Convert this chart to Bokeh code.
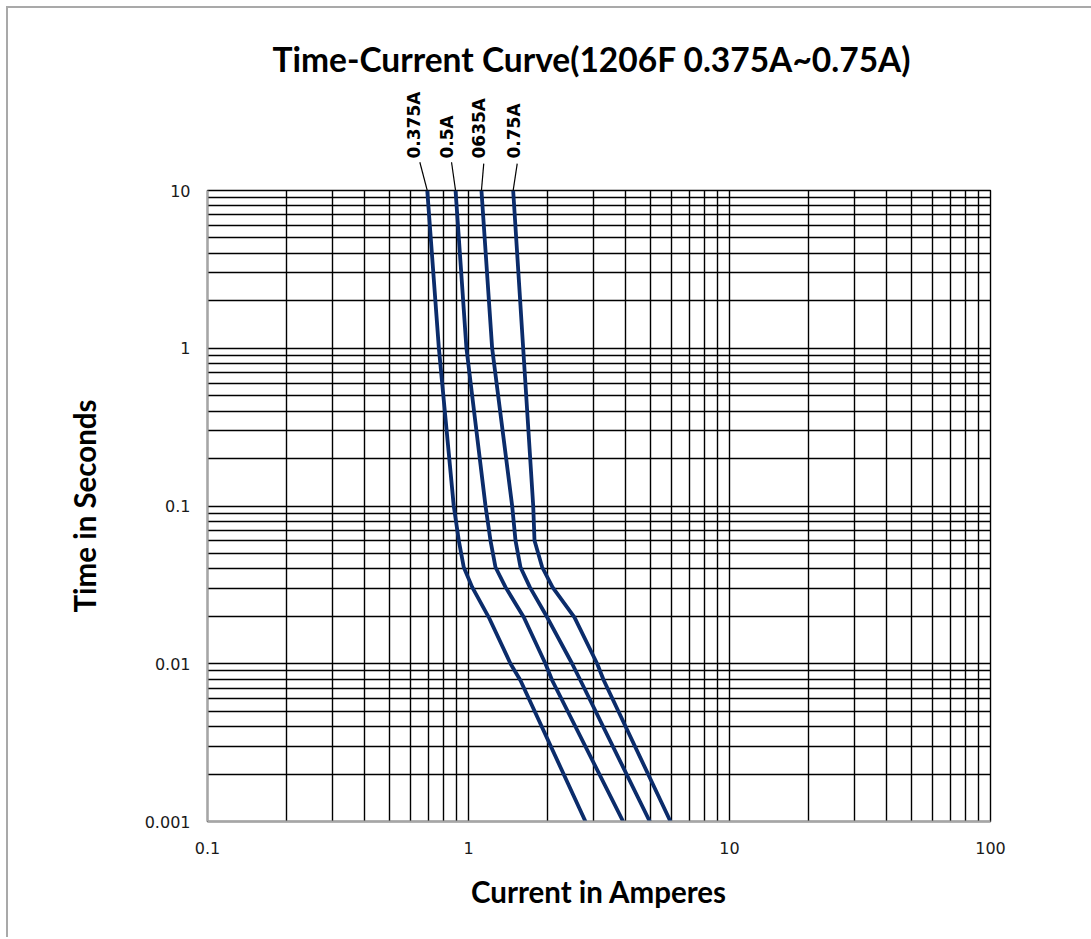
import math
from bokeh.plotting import figure
from bokeh.layouts import column
from bokeh.models import (FixedTicker, Title, Range1d, CustomJSTickFormatter)
from bokeh.core.properties import value
from bokeh.embed import file_html
from bokeh.resources import INLINE

# ---------------- data ----------------
rating_names = ["0.375A", "0.5A", "0635A", "0.75A"]

times = [10, 1, 0.1, 0.0604, 0.0409, 0.0306, 0.0197, 0.01, 0.00783, 0.001]
current_0375 = [0.695, 0.770, 0.878, 0.918, 0.959, 1.033, 1.196, 1.449, 1.582, 2.807]
current_05 = [0.892, 0.982, 1.162, 1.214, 1.269, 1.386, 1.629, 1.972, 2.093, 3.914]
current_0635 = [1.121, 1.232, 1.470, 1.514, 1.582, 1.718, 2.002, 2.496, 2.686, 4.951]
current_075 = [1.483, 1.620, 1.770, 1.790, 1.916, 2.098, 2.547, 3.112, 3.300, 5.943]

# curve labels (current, time) above the grid, and leader start points
label_current = [0.617, 0.829, 1.095, 1.491]
label_time = [15.95, 15.95, 15.95, 15.95]
leader_current = [0.651, 0.861, 1.144, 1.537]
leader_time = [15.1, 15.1, 14.8, 14.8]

x_ticks = [0.1, 1, 10, 100]
y_ticks = [0.001, 0.01, 0.1, 1, 10]

# ---------------- layout constants ----------------
W = 1083
LEFT, RIGHT = 199, 101
TOP_H = 182          # header figure (title + curve labels)
TOP_BORDER = 77
OVERLAP = 12
MAIN_H = 759
FRAME_H = 631
PX_PER_DECADE = FRAME_H / 4.0

x_range = Range1d(0.1, 100)
fmt = CustomJSTickFormatter(code="return parseFloat(tick.toPrecision(6)).toString();")

# ---------------- main figure ----------------
p = figure(width=W, height=MAIN_H, x_axis_type="log", y_axis_type="log",
           x_range=x_range, y_range=Range1d(0.001, 10),
           output_backend="svg", toolbar_location=None,
           min_border_left=LEFT, min_border_right=RIGHT,
           min_border_top=OVERLAP, min_border_bottom=MAIN_H - OVERLAP - FRAME_H,
           margin=(-OVERLAP, 0, 0, 0))
p.background_fill_color = "white"
p.border_fill_alpha = 0
p.outline_line_color = "black"
p.outline_line_width = 1.4

def minor_list(lo_exp, hi_exp):
    out = []
    for e in range(lo_exp, hi_exp):
        for k in range(2, 10):
            out.append(k * 10.0 ** e)
    return out

xt = FixedTicker(ticks=x_ticks, minor_ticks=minor_list(-1, 2))
yt = FixedTicker(ticks=y_ticks, minor_ticks=minor_list(-3, 1))
p.xaxis.ticker = xt
p.yaxis.ticker = yt
p.xgrid.ticker = xt
p.ygrid.ticker = yt
p.xaxis.formatter = fmt
p.yaxis.formatter = fmt

for g in (p.xgrid, p.ygrid):
    g.grid_line_color = "black"
    g.grid_line_width = 1.4
    g.minor_grid_line_color = "black"
    g.minor_grid_line_width = 1.4

for ax in (p.xaxis[0], p.yaxis[0]):
    ax.axis_line_color = "#a6a6a6"
    ax.axis_line_width = 2
    ax.major_tick_line_color = None
    ax.minor_tick_line_color = None
    ax.major_tick_out = 0
    ax.major_tick_in = 0
    ax.minor_tick_out = 0
    ax.minor_tick_in = 0
    ax.major_label_text_font = "DejaVu Sans"
    ax.major_label_text_font_size = "16px"
    ax.major_label_text_color = "#1a1a1a"
    ax.axis_label_text_font = "Lato"
    ax.axis_label_text_font_style = "bold"
    ax.axis_label_text_font_size = "29.5px"
    ax.axis_label_text_color = "black"

p.xaxis.axis_label = "Current in Amperes"
p.yaxis.axis_label = "Time in Seconds"
p.xaxis.major_label_standoff = 20
p.yaxis.major_label_standoff = 17
p.xaxis.axis_label_standoff = 17
p.yaxis.axis_label_standoff = 40

curve_color = "#0b2c6b"
all_curves = (current_0375, current_05, current_0635, current_075)
for cur in all_curves:
    p.line(cur, times, line_color=curve_color, line_width=3.8, line_join="round")

# ---------------- header figure (title + curve labels) ----------------
top_frame_h = TOP_H - TOP_BORDER
top_y_end = 10 ** (1 + top_frame_h / PX_PER_DECADE)
ph = figure(width=W, height=TOP_H, x_axis_type="log", y_axis_type="log",
            x_range=x_range, y_range=Range1d(10, top_y_end),
            x_axis_location=None, y_axis_location=None,
            output_backend="svg", toolbar_location=None,
            min_border_left=LEFT, min_border_right=RIGHT,
            min_border_top=TOP_BORDER, min_border_bottom=0)
ph.grid.visible = False
ph.outline_line_color = None
ph.background_fill_color = "white"
ph.border_fill_color = "white"

title = Title(text="Time-Current Curve(1206F  0.375A~0.75A)", align="left",
              text_font="Lato", text_font_style="bold", text_font_size="33.5px",
              text_color="black", standoff=13, offset=65)
ph.add_layout(title, "above")

ph.text(x=label_current, y=label_time, text=rating_names, angle=math.pi / 2,
        text_align="left", text_baseline="middle",
        text_font=value("DejaVu Sans"), text_font_style="bold",
        text_font_size="17px", text_color="black")

first_current = [c[0] for c in all_curves]
ph.segment(x0=leader_current, y0=leader_time, x1=first_current, y1=[times[0]] * 4,
           line_color="black", line_width=1.2)

layout = column(ph, p, spacing=0, margin=(6, 0, 0, 6),
                styles={"border-left": "2px solid #a9a9a9",
                        "border-top": "2px solid #a9a9a9"})
open("out.html", "w").write(file_html(layout, INLINE))
